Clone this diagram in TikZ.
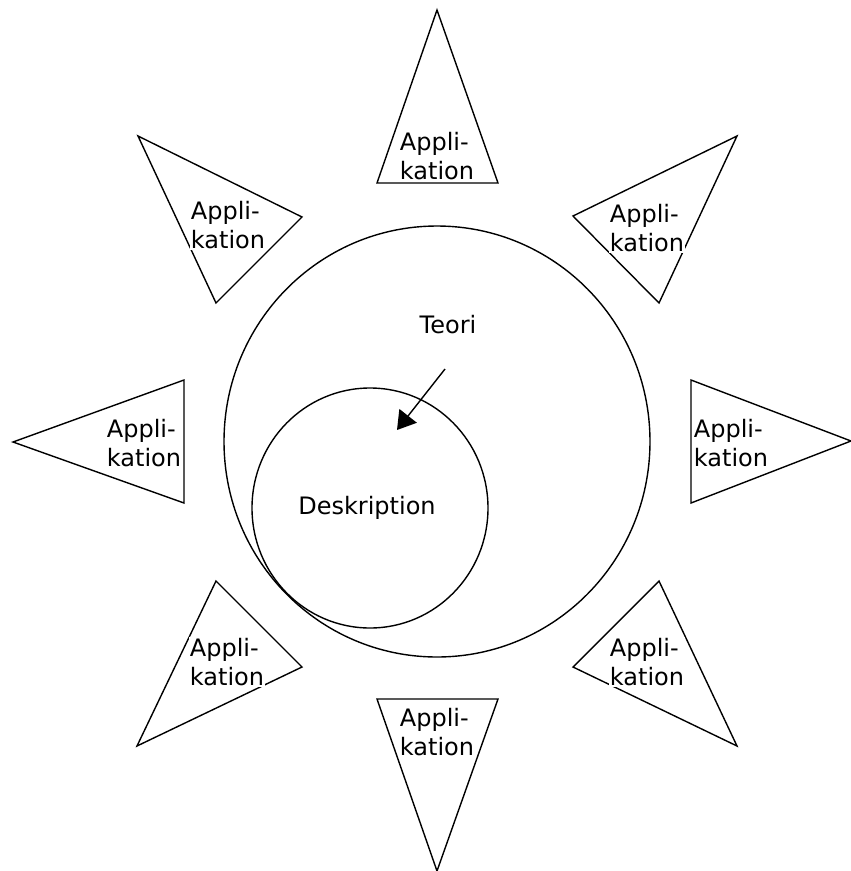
\documentclass[tikz,border=0pt]{standalone}
\usepackage{fontspec}
\setmainfont{DejaVu Sans}
\usetikzlibrary{arrows.meta}
\begin{document}
\begin{tikzpicture}[x=1pt,y=-1pt,
  shape line/.style={line width=1.4pt, line join=miter},
  applabel/.style={fill=white, inner sep=1pt, align=left,
    font=\fontsize{24}{28.5}\selectfont},
  plainlabel/.style={inner sep=1pt, font=\fontsize{24}{28.5}\selectfont}]
\useasboundingbox (0,0) rectangle (851,871);

% circles: theory contains description
\draw[shape line] (437,441.5) ellipse[x radius=213, y radius=215.5];
\draw[shape line] (370,508) ellipse[x radius=118, y radius=120];

% eight application triangles around the circles
\draw[shape line] (437,10) -- (498,183) -- (377,183) -- cycle;
\draw[shape line] (737,136) -- (659,303) -- (573,216) -- cycle;
\draw[shape line] (851,441) -- (691,503) -- (691,380) -- cycle;
\draw[shape line] (737,746) -- (573,667) -- (659,581) -- cycle;
\draw[shape line] (437,871) -- (377,699) -- (498,699) -- cycle;
\draw[shape line] (137,746) -- (216,581) -- (302,667) -- cycle;
\draw[shape line] (13,442) -- (184,380) -- (184,503) -- cycle;
\draw[shape line] (138,136) -- (302,217) -- (216,303) -- cycle;

% labels
\node[applabel] (appN)  at (437,156) {Appli-\\kation};
\node[applabel] (appNE) at (647,228) {Appli-\\kation};
\node[applabel] (appE)  at (731,443) {Appli-\\kation};
\node[applabel] (appSE) at (647,662) {Appli-\\kation};
\node[applabel] (appS)  at (437,732) {Appli-\\kation};
\node[applabel] (appSW) at (227,662) {Appli-\\kation};
\node[applabel] (appW)  at (144,443) {Appli-\\kation};
\node[applabel] (appNW) at (228,225) {Appli-\\kation};

\node[plainlabel] (teori) at (448,325) {Teori};
\node[plainlabel] (deskription) at (367,508) {Deskription};

% arrow from theory into description
\coordinate (arrowstart) at (445,369);
\coordinate (arrowend) at (397,430);
\draw[line width=1.4pt, -{Triangle[length=18pt,width=22pt]}] (arrowstart) -- (arrowend);
\end{tikzpicture}
\end{document}
